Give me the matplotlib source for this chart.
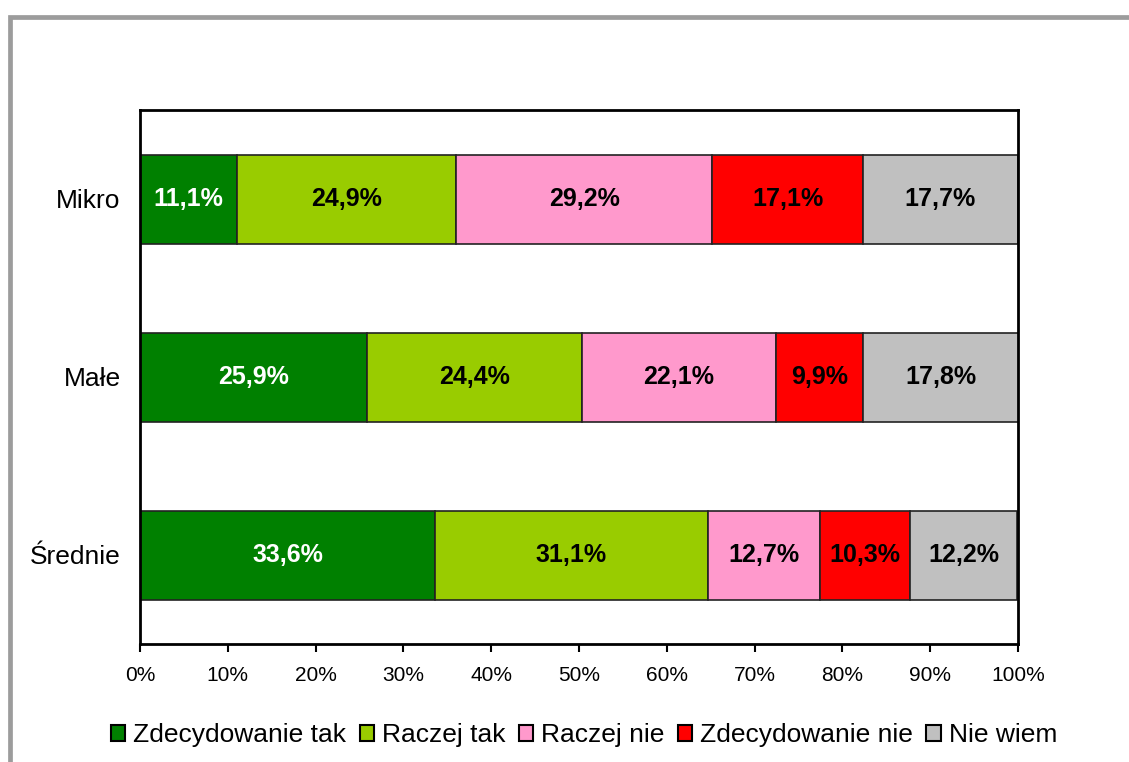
import matplotlib.pyplot as plt
from matplotlib.patches import Rectangle

plt.rcParams['font.family'] = ['Liberation Sans', 'DejaVu Sans']

categories = ['Średnie', 'Małe', 'Mikro']
series = ['Zdecydowanie tak', 'Raczej tak', 'Raczej nie', 'Zdecydowanie nie', 'Nie wiem']
values = [
    [33.6, 25.9, 11.1],   # Zdecydowanie tak
    [31.1, 24.4, 24.9],   # Raczej tak
    [12.7, 22.1, 29.2],   # Raczej nie
    [10.3, 9.9, 17.1],    # Zdecydowanie nie
    [12.2, 17.8, 17.7],   # Nie wiem
]
colors = ['#008000', '#99CC00', '#FF99CC', '#FF0000', '#C0C0C0']
text_colors = ['white', 'black', 'black', 'black', 'black']
xticks = [0, 10, 20, 30, 40, 50, 60, 70, 80, 90, 100]

W, H = 1129, 762
fig = plt.figure(figsize=(W / 100, H / 100), dpi=100)

# grey outer frame, only top and left edges visible
fig.patches.append(Rectangle((9.5 / W, -0.1), 1.2, 1.1 - 16.5 / H, transform=fig.transFigure,
                             fill=False, edgecolor='#9c9c9c', linewidth=3.4, zorder=0))

ax = fig.add_axes([140 / W, 1 - 644 / H, (1018 - 140) / W, (644 - 110) / H])

ypos = range(len(categories))
left = [0.0] * len(categories)
for vals, col, tcol, name in zip(values, colors, text_colors, series):
    bars = ax.barh(ypos, vals, left=left, height=0.5, color=col, edgecolor='#222222',
                   linewidth=1.2, label=name)
    for y, v, l in zip(ypos, vals, left):
        ax.text(l + v / 2, y, f'{v:.1f}%'.replace('.', ','), ha='center', va='center',
                color=tcol, fontsize=18, fontweight='bold')
    left = [l + v for l, v in zip(left, vals)]

ax.set_xlim(0, 100)
ax.set_ylim(-0.5, 2.5)
ax.set_xticks(xticks)
ax.set_xticklabels([f'{t}%' for t in xticks], fontsize=15)
ax.set_yticks(list(ypos))
ax.set_yticklabels(categories, fontsize=19)
ax.tick_params(axis='x', direction='out', length=6, width=1.5, pad=10)
ax.tick_params(axis='y', length=0, pad=14)
for s in ax.spines.values():
    s.set_linewidth(2)
    s.set_color('black')

leg = fig.legend(loc='center', bbox_to_anchor=(584 / W, 1 - 735 / H), ncol=5, frameon=False,
                 fontsize=19, handlelength=0.55, handleheight=0.55, handletextpad=0.3,
                 columnspacing=0.5, borderaxespad=0)
for h in leg.legend_handles:
    h.set_edgecolor('black')
    h.set_linewidth(1.5)

fig.savefig('out.png', dpi=100)
